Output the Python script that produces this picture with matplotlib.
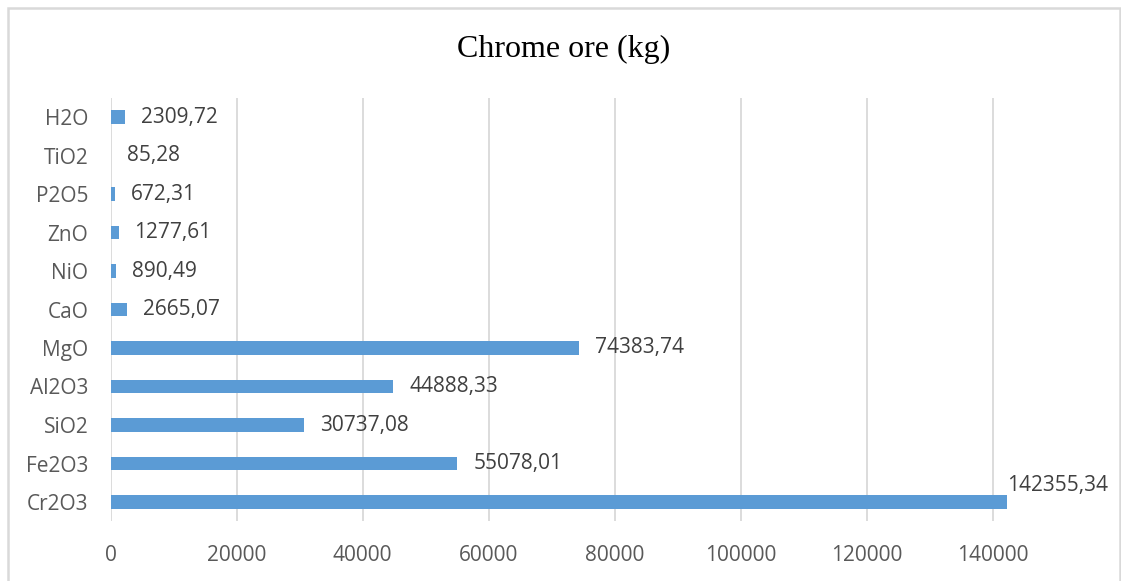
import matplotlib.pyplot as plt
from matplotlib.patches import Rectangle

# data, bottom to top as drawn
oxides = ['Cr2O3', 'Fe2O3', 'SiO2', 'Al2O3', 'MgO', 'CaO', 'NiO', 'ZnO', 'P2O5', 'TiO2', 'H2O']
mass_kg = [142355.34, 55078.01, 30737.08, 44888.33, 74383.74, 2665.07, 890.49, 1277.61, 672.31, 85.28, 2309.72]
x_ticks = [0, 20000, 40000, 60000, 80000, 100000, 120000, 140000]

W, H = 1121, 581
fig = plt.figure(figsize=(W / 100, H / 100), dpi=100)
font = 'Open Sans'
grey = '#595959'

# plot area: 0 at x=110.5px, 20000 per 126px, rows from y=97.75 to 521.25
left = 110.5 / W
right = (110.5 + 8 * 126) / W
ax = fig.add_axes([left, (H - 521.25) / H, right - left, (521.25 - 97.75) / H])

pos = list(range(len(oxides)))
bars = ax.barh(pos, mass_kg, height=0.35, color='#5B9BD5', zorder=3)

lbls = [f'{v:.2f}'.replace('.', ',') for v in mass_kg]
ax.bar_label(bars, labels=[''] + lbls[1:], padding=11.5, fontsize=15,
             color='#404040', family=font)
# the largest value is lifted above the bar end
ax.annotate(lbls[0], xy=(mass_kg[0], pos[0]), xytext=(0, 12),
            textcoords='offset points', ha='left', va='center',
            fontsize=15, color='#404040', family=font)

ax.set_xlim(0, 160000)
ax.set_ylim(-0.5, len(oxides) - 0.5)
ax.set_xticks(x_ticks)
ax.set_xticklabels([str(t) for t in x_ticks], family=font, fontsize=15, color=grey)
ax.set_yticks(pos)
ax.set_yticklabels(oxides, family=font, fontsize=15, color=grey)
ax.tick_params(axis='both', length=0)
ax.tick_params(axis='x', pad=17)
ax.tick_params(axis='y', pad=16)
ax.grid(axis='x', color='#D9D9D9', linewidth=1.3, zorder=0)
for s in ax.spines.values():
    s.set_visible(False)

fig.text(564 / W, 1 - 49 / H, 'Chrome ore (kg)', ha='center', va='center',
         family='Liberation Serif', fontsize=23, color='black')

# outer chart border
fig.patches.append(Rectangle((7.5 / W, -0.1), (1119.5 - 7.5) / W, 1 - 7.5 / H + 0.1,
                             transform=fig.transFigure, fill=False,
                             edgecolor='#D9D9D9', linewidth=1.8))

fig.savefig('out.png', dpi=100)
